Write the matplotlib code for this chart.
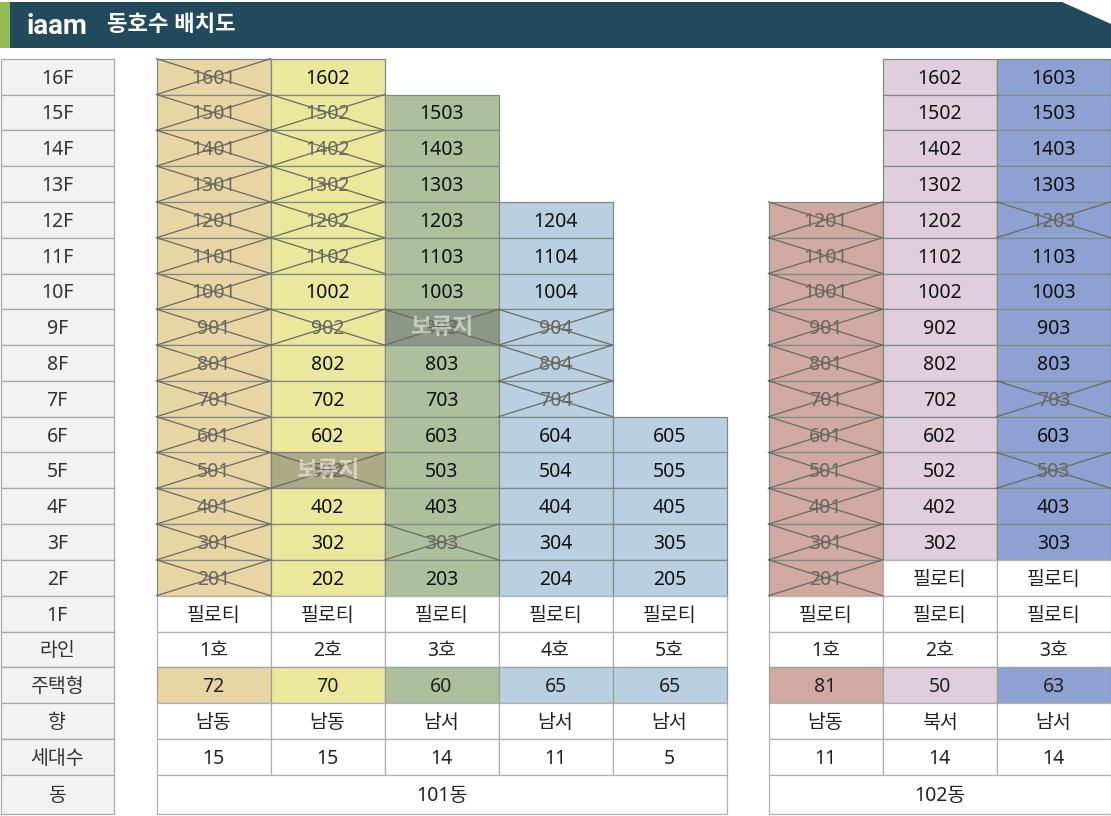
import matplotlib
matplotlib.use("Agg")
import matplotlib.pyplot as plt
from matplotlib.patches import Polygon, Rectangle

plt.rcParams["font.family"] = ["Noto Sans", "Noto Sans CJK KR", "DejaVu Sans"]

FLOOR_LABELS = ["16F", "15F", "14F", "13F", "12F", "11F", "10F", "9F", "8F", "7F", "6F",
                "5F", "4F", "3F", "2F", "1F", "라인", "주택형", "향", "세대수", "동"]

# one entry per line: building, line name, unit type, direction, households, top floor, bottom floor
LINE_NAMES = ["1호", "2호", "3호", "4호", "5호", "1호", "2호", "3호"]
UNIT_TYPES = [72, 70, 60, 65, 65, 81, 50, 63]
DIRECTIONS = ["남동", "남동", "남서", "남서", "남서", "남동", "북서", "남서"]
HOUSEHOLDS = [15, 15, 14, 11, 5, 11, 14, 14]
TOP_FLOORS = [16, 16, 15, 12, 6, 12, 16, 16]
BOTTOM_FLOORS = [2, 2, 2, 2, 2, 2, 3, 3]
LINE_SUFFIX = [1, 2, 3, 4, 5, 1, 2, 3]
LINE_COLORS = ["#e8d5a4", "#ebe89d", "#adbf9d", "#bacfe0", "#bacfe0", "#d1a9a3", "#e0cedb", "#8ea1d2"]

CROSSED = {
    0: [1601, 1501, 1401, 1301, 1201, 1101, 1001, 901, 801, 701, 601, 501, 401, 301, 201],
    1: [1502, 1402, 1302, 1202, 1102, 902, 502],
    2: [903, 303],
    3: [904, 804, 704],
    4: [],
    5: [1201, 1101, 1001, 901, 801, 701, 601, 501, 401, 301, 201],
    6: [],
    7: [1203, 703, 503],
}
RESERVED = {1: [502], 2: [903]}

BUILDINGS = ["101동", "102동"]

# layout in reference pixels
COL_X = [156.5, 270.5, 384.5, 498.5, 612.5, 768.5, 882.5, 996.5]
COL_W = 114
ROW_TOP = 58.7
ROW_H = 35.8
GRID = "#b0b0b0"
DARK = "#23495c"
TEXT_SHIFT = 2.0


def row_y(i):
    return ROW_TOP + ROW_H * i


def row_h(i):
    return 39.5 if i == 20 else ROW_H


def cell(ax, x, i, w=COL_W, face="white", edge=GRID, label=None, **kw):
    ax.add_patch(Rectangle((x, row_y(i)), w, row_h(i), facecolor=face, edgecolor=edge, lw=0.9, zorder=2))
    if label is not None:
        ax.text(x + w / 2, row_y(i) + row_h(i) / 2 + TEXT_SHIFT, label, ha="center", va="center",
                fontsize=kw.pop("fontsize", 14), zorder=5, **kw)


def cross(ax, x, i):
    y0, y1 = row_y(i), row_y(i) + ROW_H
    ax.plot([x, x + COL_W], [y0, y1], color="#6a6a5e", lw=0.9, zorder=4)
    ax.plot([x, x + COL_W], [y1, y0], color="#6a6a5e", lw=0.9, zorder=4)


fig = plt.figure(figsize=(11.11, 8.16), dpi=100)
ax = fig.add_axes([0, 0, 1, 1])
ax.set_xlim(0, 1111)
ax.set_ylim(816, 0)
ax.axis("off")

# header banner
ax.add_patch(Polygon([(0, 2), (1062, 2), (1111, 24), (1111, 48), (0, 48)], facecolor=DARK, edgecolor="none"))
ax.add_patch(Rectangle((0, 2), 10, 46, facecolor="#92bd52", edgecolor="none"))
ax.text(27, 26, "iaam", color="white", family="Roboto", fontsize=20, fontweight="bold", ha="left", va="center")
ax.text(107, 25.5, "동호수 배치도", color="white", fontsize=16, fontweight="bold", ha="left", va="center")

# floor labels on the left
for i, lab in enumerate(FLOOR_LABELS):
    cell(ax, 0.5, i, w=113.5, face="#f2f2f2", edge="#a8a8a8", label=lab, color="#333333")

for n, x in enumerate(COL_X):
    color = LINE_COLORS[n]
    for floor in range(TOP_FLOORS[n], BOTTOM_FLOORS[n] - 1, -1):
        i = 16 - floor
        unit = floor * 100 + LINE_SUFFIX[n]
        crossed = unit in CROSSED[n]
        cell(ax, x, i, face=color, edge="#7f8a86",
             label=str(unit), color="#66665f" if crossed else "#111111")
        if crossed:
            cross(ax, x, i)
        if unit in RESERVED.get(n, []):
            ax.add_patch(Rectangle((x, row_y(i)), COL_W, ROW_H, facecolor="#707070", alpha=0.5,
                                   edgecolor="none", zorder=3))
            ax.text(x + COL_W / 2, row_y(i) + ROW_H / 2 + 0.5, "보류지", color="white", alpha=0.5,
                    fontsize=16.5, fontweight="bold", ha="center", va="center", zorder=6)
    # piloti rows under the lowest unit
    for floor in range(BOTTOM_FLOORS[n] - 1, 0, -1):
        cell(ax, x, 16 - floor, label="필로티", color="#222222")
    cell(ax, x, 16, label=LINE_NAMES[n], color="#222222")
    cell(ax, x, 17, face=color, edge="#9a9f98", label=str(UNIT_TYPES[n]), color="#222222")
    cell(ax, x, 18, label=DIRECTIONS[n], color="#222222")
    cell(ax, x, 19, label=str(HOUSEHOLDS[n]), color="#222222")

cell(ax, COL_X[0], 20, w=COL_W * 5, label=BUILDINGS[0], color="#222222")
cell(ax, COL_X[5], 20, w=COL_W * 3, label=BUILDINGS[1], color="#222222")

fig.savefig("out.png", dpi=100)
plt.close(fig)
